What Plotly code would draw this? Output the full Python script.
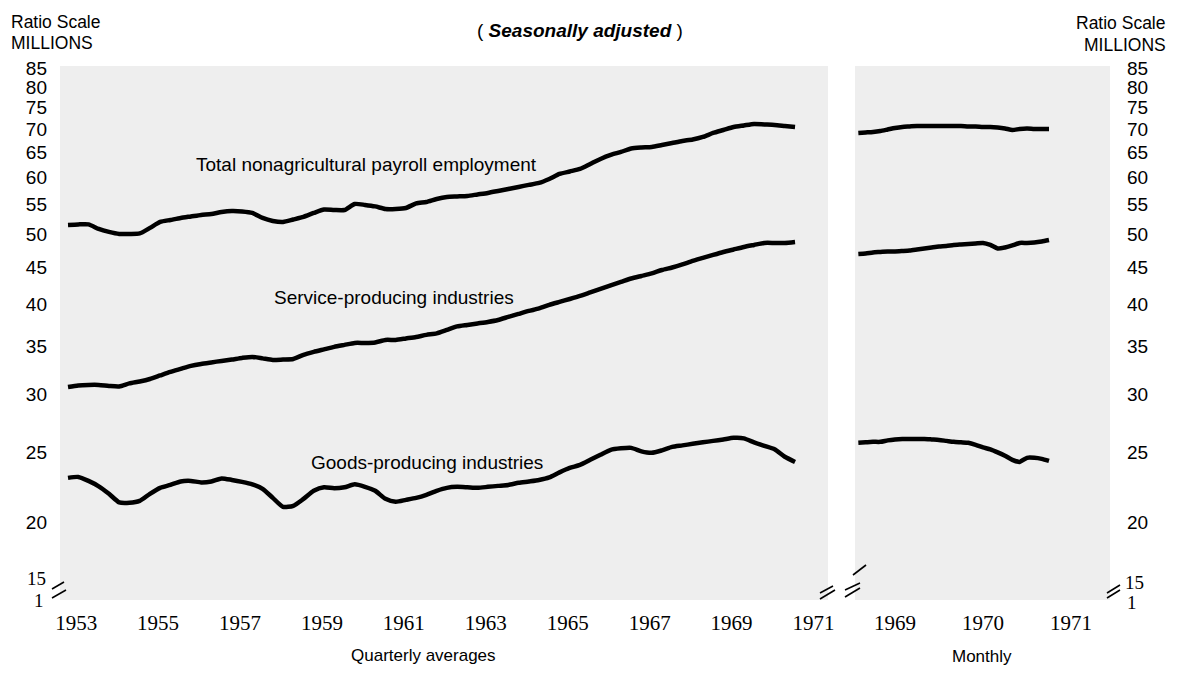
import plotly.graph_objects as go

# ---------------- DATA ----------------
quarter_years = list(range(1953, 1971))          # 1953 .. 1970, four quarters each
quarter_index = [1, 2, 3, 4]

total_q = [51.55, 51.63, 51.63, 50.89, 50.41, 50.09, 50.09, 50.17,
           51.06, 52.04, 52.37, 52.71, 52.96, 53.22, 53.38, 53.72,
           53.89, 53.81, 53.55, 52.71, 52.21, 52.04, 52.45, 52.88,
           53.55, 54.15, 54.06, 54.06, 55.11, 54.94, 54.68, 54.24,
           54.24, 54.41, 55.20, 55.46, 55.99, 56.35, 56.44, 56.53,
           56.81, 57.08, 57.44, 57.81, 58.18, 58.56, 58.93, 59.68,
           60.64, 61.12, 61.61, 62.60, 63.61, 64.43, 65.04, 65.77,
           65.98, 66.09, 66.51, 66.93, 67.36, 67.68, 68.23, 69.10,
           69.76, 70.44, 70.78, 71.12, 71.00, 70.89, 70.66, 70.44]

services_q = [30.76, 30.91, 30.96, 30.96, 30.86, 30.81, 31.11, 31.30,
              31.55, 31.91, 32.27, 32.58, 32.89, 33.10, 33.26, 33.42,
              33.57, 33.74, 33.85, 33.69, 33.52, 33.57, 33.63, 34.07,
              34.39, 34.67, 34.95, 35.17, 35.39, 35.39, 35.45, 35.73,
              35.73, 35.90, 36.07, 36.31, 36.48, 36.88, 37.30, 37.48,
              37.66, 37.84, 38.08, 38.45, 38.82, 39.19, 39.50, 39.95,
              40.33, 40.71, 41.11, 41.57, 42.04, 42.51, 42.98, 43.46,
              43.81, 44.16, 44.65, 45.01, 45.45, 45.96, 46.40, 46.85,
              47.29, 47.67, 48.05, 48.36, 48.67, 48.67, 48.67, 48.82]

goods_q = [23.02, 23.09, 22.80, 22.41, 21.88, 21.29, 21.26, 21.39,
           21.88, 22.30, 22.51, 22.76, 22.80, 22.69, 22.76, 22.98,
           22.87, 22.73, 22.55, 22.23, 21.60, 20.99, 21.06, 21.53,
           22.09, 22.34, 22.27, 22.34, 22.55, 22.37, 22.09, 21.53,
           21.33, 21.46, 21.60, 21.81, 22.09, 22.30, 22.37, 22.34,
           22.30, 22.37, 22.44, 22.51, 22.66, 22.76, 22.87, 23.06,
           23.43, 23.76, 23.99, 24.38, 24.78, 25.17, 25.29, 25.33,
           25.05, 24.93, 25.13, 25.41, 25.53, 25.66, 25.78, 25.90,
           26.02, 26.15, 26.11, 25.78, 25.49, 25.21, 24.62, 24.22]

# monthly, August 1968 .. October 1970
month_start_year = 1968
month_start_month = 8
total_m = [69.10, 69.21, 69.32, 69.54, 69.87, 70.21, 70.44, 70.55, 70.66,
           70.66, 70.66, 70.66, 70.66, 70.66, 70.66, 70.55, 70.55, 70.44,
           70.44, 70.32, 70.10, 69.76, 69.99, 70.10, 69.99, 69.99, 69.99]
services_m = [46.99, 47.07, 47.22, 47.29, 47.37, 47.37, 47.44, 47.52, 47.67,
              47.82, 47.98, 48.13, 48.21, 48.36, 48.44, 48.51, 48.59, 48.67,
              48.36, 47.82, 47.98, 48.28, 48.67, 48.67, 48.74, 48.90, 49.13]
goods_m = [25.74, 25.78, 25.82, 25.82, 25.94, 26.02, 26.06, 26.06, 26.06,
           26.06, 26.02, 25.98, 25.90, 25.82, 25.78, 25.74, 25.58, 25.37,
           25.21, 24.97, 24.70, 24.38, 24.22, 24.54, 24.54, 24.46, 24.30]

left_year_ticks = [1953, 1955, 1957, 1959, 1961, 1963, 1965, 1967, 1969, 1971]
right_year_ticks = [1969, 1970, 1971]
y_ticks = [20, 25, 30, 35, 40, 45, 50, 55, 60, 65, 70, 75, 80, 85]
broken_scale_labels = ["15", "1"]

series_labels = ["Total nonagricultural payroll employment",
                 "Service-producing industries",
                 "Goods-producing industries"]

# ---------------- GEOMETRY HELPERS ----------------
W, H = 1180, 676
def px(x):
    return x / W
def py(y):
    return 1 - y / H

q_x = [yr + (q - 1) / 4 for yr in quarter_years for q in quarter_index]
m_x = []
for i in range(len(total_m)):
    mm = month_start_month - 1 + i
    m_x.append(month_start_year + mm // 12 + (mm % 12) / 12)

SANS = "Liberation Sans, Arial, sans-serif"
SERIF = "Liberation Serif, Times New Roman, serif"
BG = "#eeeeee"
LINE = dict(color="black", width=4.5, shape="spline", smoothing=0.6)

fig = go.Figure()
for ys in (total_q, services_q, goods_q):
    fig.add_trace(go.Scatter(x=q_x, y=ys, mode="lines", line=LINE,
                             xaxis="x", yaxis="y", showlegend=False, hoverinfo="skip"))
for ys in (total_m, services_m, goods_m):
    fig.add_trace(go.Scatter(x=m_x, y=ys, mode="lines", line=LINE,
                             xaxis="x2", yaxis="y2", showlegend=False, hoverinfo="skip"))

y_top_px, y_bot_px = 66, 600
log_top = 1.93217
log_bot = 1.19307
ydom = [py(y_bot_px), py(y_top_px)]

fig.update_layout(
    template="none",
    width=W, height=H, autosize=False,
    margin=dict(l=0, r=0, t=0, b=0),
    paper_bgcolor="white",
    plot_bgcolor="white",
    font=dict(family=SANS, color="black"),
    showlegend=False,
    xaxis=dict(domain=[px(60), px(828)], range=[1952.8047, 1971.5547],
               tickvals=[t + 0.2 for t in left_year_ticks],
               ticktext=[str(t) for t in left_year_ticks],
               tickfont=dict(family=SERIF, size=21, color="black"),
               ticks="", showgrid=False, zeroline=False, showline=False,
               ticklabelstandoff=8, automargin=False, anchor="y"),
    yaxis=dict(domain=ydom, type="log", range=[log_bot, log_top],
               tickvals=y_ticks, ticktext=[str(t) for t in y_ticks],
               tickfont=dict(family=SANS, size=19, color="black"),
               ticks="", showgrid=False, zeroline=False, showline=False,
               ticklabelstandoff=12, automargin=False, anchor="x"),
    xaxis2=dict(domain=[px(855), px(1110)], range=[1968.5455, 1971.4432],
                tickvals=right_year_ticks,
                ticktext=[str(t) for t in right_year_ticks],
                tickfont=dict(family=SERIF, size=21, color="black"),
                ticks="", showgrid=False, zeroline=False, showline=False,
                ticklabelstandoff=8, automargin=False, anchor="y2"),
    yaxis2=dict(domain=ydom, type="log", range=[log_bot, log_top], side="right",
                tickvals=y_ticks, ticktext=[str(t) for t in y_ticks],
                tickfont=dict(family=SANS, size=19, color="black"),
                ticks="", showgrid=False, zeroline=False, showline=False,
                ticklabelstandoff=16, automargin=False, anchor="x2"),
)

# stippled panel backgrounds
for x0, x1 in ((60, 828), (855, 1110)):
    fig.add_shape(type="rect", xref="paper", yref="paper",
                  x0=px(x0), x1=px(x1), y0=py(y_bot_px), y1=py(y_top_px),
                  fillcolor=BG, line=dict(width=0), layer="below")

# break marks
breaks = [((52, 589), (64, 582)), ((52, 598), (66, 590)),
          ((820, 599), (835, 590)), ((820, 593), (833, 586)),
          ((845, 597), (860, 588)), ((845, 590), (860, 583)),
          ((853, 575), (866, 565)),
          ((1107, 598), (1120, 590)), ((1107, 593), (1120, 585))]
for (a, b) in breaks:
    fig.add_shape(type="line", xref="paper", yref="paper",
                  x0=px(a[0]), y0=py(a[1]), x1=px(b[0]), y1=py(b[1]),
                  line=dict(color="black", width=1.6))

ann = []
def add(text, x, y, xanchor="center", size=17, family=SANS, yanchor="middle"):
    ann.append(dict(text=text, x=px(x), y=py(y), xref="paper", yref="paper",
                    xanchor=xanchor, yanchor=yanchor, showarrow=False,
                    font=dict(family=family, size=size, color="black")))

add("Ratio Scale", 9, 22, xanchor="left", size=17.5)
add("MILLIONS", 9, 43, xanchor="left", size=17.5)
add("Ratio Scale", 1168, 23, xanchor="right", size=17.5)
add("MILLIONS", 1168, 45, xanchor="right", size=17.5)
add("( <b><i>Seasonally adjusted</i></b> )", 580, 30, size=19)
add(series_labels[0], 366, 165, size=19)
add(series_labels[1], 394, 298, size=19)
add(series_labels[2], 427, 462, size=19)
add("Quarterly averages", 423, 655, size=17)
add("Monthly", 982, 656, size=17)
add(broken_scale_labels[0], 48, 578, xanchor="right", size=19, family=SERIF)
add(broken_scale_labels[1], 46, 600, xanchor="right", size=19, family=SERIF)
add(broken_scale_labels[0], 1123, 582, xanchor="left", size=19, family=SERIF)
add(broken_scale_labels[1], 1125, 602, xanchor="left", size=19, family=SERIF)
fig.update_layout(annotations=ann)

fig.write_html("out.html",
               config={"displayModeBar": False, "staticPlot": True},
               post_script="document.body.style.margin='0px';document.body.style.overflow='hidden';")
